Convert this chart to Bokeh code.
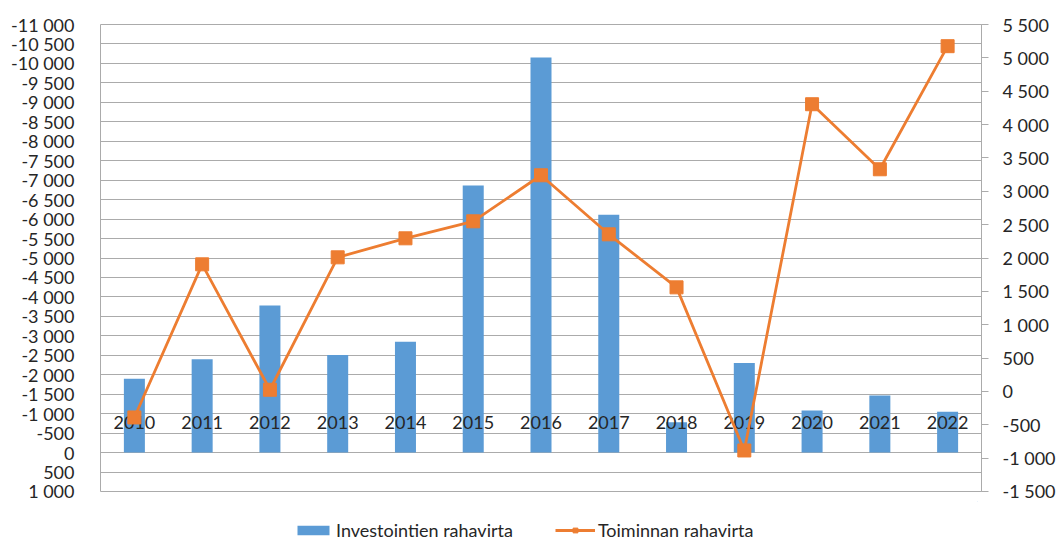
from bokeh.plotting import figure
from bokeh.layouts import column
from bokeh.models import (Range1d, FactorRange, LinearAxis, SingleIntervalTicker,
                          CustomJSTickFormatter, Legend, LegendItem, ColumnDataSource)
from bokeh.core.properties import value
from bokeh.embed import file_html
from bokeh.resources import INLINE

years = ["2010", "2011", "2012", "2013", "2014", "2015", "2016",
         "2017", "2018", "2019", "2020", "2021", "2022"]
investointien = [-1900, -2400, -3780, -2510, -2850, -6860, -10150,
                 -6110, -780, -2300, -1080, -1470, -1050]
toiminnan = [-390, 1905, 25, 2010, 2295, 2550, 3240,
             2355, 1560, -885, 4305, 3330, 5175]
series_names = ["Investointien rahavirta", "Toiminnan rahavirta"]

FONT = "Lato"
TXT = "#262626"
GRID = "#ababab"
BLUE = "#5B9BD5"
ORANGE = "#ED7D31"

fmt = CustomJSTickFormatter(code="""
return Math.round(tick).toString().replace(/\\B(?=(\\d{3})+(?!\\d))/g, " ");
""")

p = figure(frame_width=881, frame_height=467, output_backend="svg", toolbar_location=None,
           x_range=FactorRange(*years, range_padding=0),
           y_range=Range1d(1000, -11000), x_axis_location=None,
           min_border_left=100, min_border_right=73, min_border_top=24, min_border_bottom=10)
p.extra_y_ranges = {"right": Range1d(-1500, 5500)}
p.outline_line_color = GRID
p.outline_line_width = 1

left = p.yaxis[0]
left.ticker = SingleIntervalTicker(interval=500)
left.formatter = fmt
left.axis_line_color = None
left.major_tick_line_color = None
left.minor_tick_line_color = None
left.major_label_standoff = 20
left.major_label_text_font = FONT
left.major_label_text_font_size = "18px"
left.major_label_text_color = TXT

p.ygrid.ticker = left.ticker
p.ygrid.grid_line_color = GRID
p.xgrid.grid_line_color = None

right = LinearAxis(y_range_name="right", ticker=SingleIntervalTicker(interval=500), formatter=fmt)
right.axis_line_color = GRID
right.major_tick_line_color = GRID
right.major_tick_out = 7
right.major_tick_in = 0
right.minor_tick_line_color = None
right.major_label_standoff = 14
right.major_label_text_font = FONT
right.major_label_text_font_size = "18px"
right.major_label_text_color = TXT
p.add_layout(right, "right")

src = ColumnDataSource(dict(x=years, inv=investointien, toi=toiminnan))
p.vbar(x="x", top="inv", bottom=0, width=0.31, source=src,
       fill_color=BLUE, line_color=None)

p.text(x=years, y=[0] * len(years), text=years, y_offset=-30,
       text_align="center", text_baseline="middle",
       text_font=value(FONT), text_font_size="18px", text_color=TXT)

p.line(x="x", y="toi", source=src, y_range_name="right",
       line_color=ORANGE, line_width=2.8)
p.scatter(x="x", y="toi", source=src, y_range_name="right",
          marker="square", size=13, fill_color=ORANGE, line_color=ORANGE)

# legend strip below the chart (its glyphs sit outside the visible range)
lg = figure(width=1054, height=40, output_backend="svg", toolbar_location=None,
            x_range=Range1d(0, 1), y_range=Range1d(0, 1),
            x_axis_location=None, y_axis_location=None,
            min_border=0)
lg.outline_line_color = None
lg.xgrid.grid_line_color = None
lg.ygrid.grid_line_color = None
offscreen = ColumnDataSource(dict(x=[5, 6], y=[5, 6]))
rb = lg.vbar(x="x", top="y", bottom=4, width=0.1, source=offscreen,
             fill_color=BLUE, line_color=None)
rl = lg.line(x="x", y="y", source=offscreen, line_color=ORANGE, line_width=2.8)
rm = lg.scatter(x="x", y="y", source=offscreen, marker="square", size=11,
                fill_color=ORANGE, line_color=ORANGE)
legend = Legend(items=[LegendItem(label=series_names[0], renderers=[rb], index=0),
                       LegendItem(label=series_names[1], renderers=[rl, rm], index=0)],
                orientation="horizontal", location=(193, 0),
                label_text_font=FONT, label_text_font_size="18px", label_text_color=TXT,
                glyph_width=40, glyph_height=12, label_standoff=3, spacing=42,
                border_line_color=None, background_fill_alpha=0,
                padding=0, margin=0)
lg.add_layout(legend)

layout = column(p, lg, spacing=0)
open("out.html", "w").write(file_html(layout, INLINE))
